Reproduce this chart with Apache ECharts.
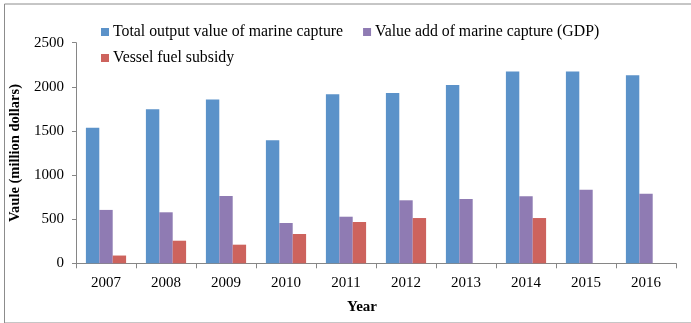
<!DOCTYPE html>
<html>
<head>
<meta charset="utf-8">
<script src="https://cdn.jsdelivr.net/npm/echarts@6/dist/echarts.min.js"></script>
<style>
html,body{margin:0;padding:0;background:#fff;}
#chart{width:691px;height:323px;}
</style>
</head>
<body>
<div id="chart"></div>
<script>
var years = ['2007','2008','2009','2010','2011','2012','2013','2014','2015','2016'];
var totalOutput = [1535, 1745, 1855, 1395, 1915, 1930, 2020, 2175, 2175, 2130];
var valueAdd = [605, 578, 762, 457, 528, 714, 729, 759, 834, 789];
var fuelSubsidy = [88, 256, 211, 332, 468, 513, null, 513, null, null];
var yTicks = [0, 500, 1000, 1500, 2000, 2500];

var FONT = "'Times New Roman', 'Liberation Serif', serif";
var chart = echarts.init(document.getElementById('chart'), null, {renderer: 'canvas'});
chart.setOption({
  animation: false,
  backgroundColor: '#ffffff',
  graphic: [{
    type: 'rect', left: 2, top: 1.5,
    shape: {width: 687, height: 319},
    style: {fill: 'none', stroke: '#8c8c8c', lineWidth: 1}
  }],
  legend: [{
    data: ['Total output value of marine capture', 'Value add of marine capture (GDP)'],
    left: 96, top: 19, icon: 'rect', itemWidth: 8, itemHeight: 8, itemGap: 20,
    textStyle: {fontFamily: FONT, fontSize: 15.8, color: '#000', padding: [0,0,0,-1]}
  }, {
    data: ['Vessel fuel subsidy'],
    left: 96, top: 45, icon: 'rect', itemWidth: 8, itemHeight: 8,
    textStyle: {fontFamily: FONT, fontSize: 15.8, color: '#000', padding: [0,0,0,-1]}
  }],
  grid: {left: 76, right: 15, top: 42.7, bottom: 59.7, containLabel: false},
  xAxis: {
    type: 'category', data: years,
    name: 'Year', nameLocation: 'middle', nameGap: 36,
    nameTextStyle: {fontFamily: FONT, fontSize: 15, fontWeight: 'bold', color: '#000', padding: [0, 28, 0, 0]},
    axisLine: {lineStyle: {color: '#868686', width: 1}},
    axisTick: {show: true, alignWithLabel: false, length: 5, lineStyle: {color: '#868686'}},
    axisLabel: {fontFamily: FONT, fontSize: 15, color: '#000', margin: 12}
  },
  yAxis: {
    type: 'value', min: 0, max: 2500, interval: 500,
    name: 'Vaule (million dollars)', nameLocation: 'middle', nameGap: 53,
    nameTextStyle: {fontFamily: FONT, fontSize: 14.5, fontWeight: 'bold', color: '#000'},
    axisLine: {show: true, lineStyle: {color: '#868686', width: 1}},
    axisTick: {show: true, length: 4, lineStyle: {color: '#868686'}},
    splitLine: {show: false},
    axisLabel: {fontFamily: FONT, fontSize: 15, color: '#000', margin: 12,
      formatter: function (v) { return yTicks.indexOf(v) >= 0 ? String(v) : ''; }}
  },
  series: [{
    name: 'Total output value of marine capture', type: 'bar', data: totalOutput,
    barGap: '0%', barCategoryGap: '33%', itemStyle: {color: '#5B92C9'}
  }, {
    name: 'Value add of marine capture (GDP)', type: 'bar', data: valueAdd,
    barGap: '0%', barCategoryGap: '33%', itemStyle: {color: '#8F7BB3'}
  }, {
    name: 'Vessel fuel subsidy', type: 'bar', data: fuelSubsidy,
    barGap: '0%', barCategoryGap: '33%', itemStyle: {color: '#CD635D'}
  }]
});
</script>
</body>
</html>
